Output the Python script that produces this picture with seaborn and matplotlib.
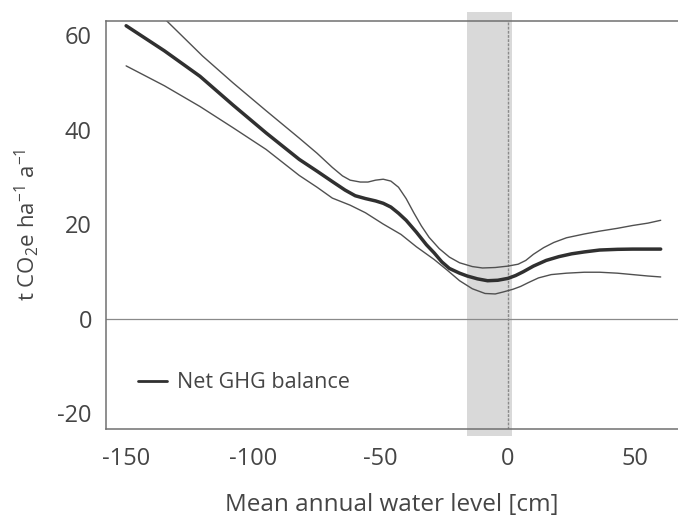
import numpy as np
import pandas as pd
import matplotlib
matplotlib.use("Agg")
import matplotlib.pyplot as plt
import seaborn as sns

# --- Data ---
mean_x = [-150, -135, -121, -108, -95, -82, -75, -69, -64, -60, -56, -52, -49, -46, -43, -40,
          -36, -32, -29, -26, -23, -19, -16, -12, -8, -4, 0, 3, 6, 10, 15, 20, 25, 30, 36, 43, 49, 55, 60]
mean_y = [62.0, 56.7, 51.3, 45.2, 39.3, 33.7, 31.2, 29.0, 27.2, 26.0, 25.4, 24.9, 24.4, 23.6, 22.3, 20.8,
          18.3, 15.6, 13.9, 12.0, 10.6, 9.6, 9.0, 8.4, 8.0, 8.1, 8.5, 9.1, 9.9, 11.1, 12.3, 13.1, 13.7, 14.1,
          14.5, 14.65, 14.7, 14.7, 14.7]

upper_x = [-150, -134, -120, -108, -95, -82, -75, -69, -65, -62, -58, -55, -52, -49, -46, -43, -40,
           -37, -34, -31, -27, -23, -19, -14, -10, -5, 0, 4, 7, 10, 14, 18, 23, 30, 36, 43, 49, 55, 60]
upper_y = [70.5, 63.0, 55.6, 49.9, 44.0, 38.2, 35.0, 32.0, 30.2, 29.3, 28.9, 28.9, 29.3, 29.5, 29.1,
           27.8, 25.4, 22.4, 19.6, 17.2, 14.8, 13.0, 11.8, 11.0, 10.7, 10.8, 11.1, 11.5, 12.3, 13.6, 15.0,
           16.1, 17.1, 17.9, 18.5, 19.1, 19.7, 20.2, 20.8]

lower_x = [-150, -135, -121, -108, -95, -82, -75, -69, -62, -56, -49, -42, -36, -29, -24, -19, -14,
           -9, -5, -2, 2, 5, 8, 12, 17, 23, 30, 36, 43, 49, 55, 60]
lower_y = [53.5, 49.3, 44.9, 40.4, 35.8, 30.3, 27.8, 25.5, 24.0, 22.4, 20.0, 17.8, 15.2, 12.5, 10.3,
           8.0, 6.3, 5.3, 5.2, 5.6, 6.2, 6.8, 7.6, 8.6, 9.3, 9.6, 9.8, 9.8, 9.6, 9.3, 9.0, 8.8]

optimum_band = (-16, 1.5)

x_ticks = [-150, -100, -50, 0, 50]
y_ticks = [-20, 0, 20, 40, 60]

sns.set_theme(style="white")
plt.rcParams['font.family'] = ['Open Sans', 'DejaVu Sans']
plt.rcParams['axes.unicode_minus'] = False
plt.rcParams['mathtext.fontset'] = 'custom'
plt.rcParams['mathtext.rm'] = 'Open Sans'
plt.rcParams['mathtext.it'] = 'Open Sans'
plt.rcParams['mathtext.default'] = 'regular'

text_col = "#454545"
fig = plt.figure(figsize=(6.78, 5.19), dpi=100)
ax = fig.add_axes([0.156, 0.1734, 0.844, 0.7861])

# shaded range and reference lines
ax.axvspan(*optimum_band, ymin=-0.017, ymax=1.022, color="#d9d9d9", lw=0, zorder=0, clip_on=False)
ax.axvline(0, color="#8a8a8a", lw=1.0, ls=(0, (2, 1)), zorder=1)
ax.axhline(0, color="#8a8a8a", lw=0.9, zorder=1)

df_mean = pd.DataFrame({"x": mean_x, "y": mean_y})
df_up = pd.DataFrame({"x": upper_x, "y": upper_y})
df_lo = pd.DataFrame({"x": lower_x, "y": lower_y})

sns.lineplot(data=df_up, x="x", y="y", ax=ax, color="#505050", lw=1.0, sort=False)
sns.lineplot(data=df_lo, x="x", y="y", ax=ax, color="#505050", lw=1.0, sort=False)
sns.lineplot(data=df_mean, x="x", y="y", ax=ax, color="#303030", lw=2.5, sort=False,
             label="Net GHG balance")

ax.set_xlim(-158, 66.8)
ax.set_ylim(-23.4, 63)
ax.set_xticks(x_ticks)
ax.set_yticks(y_ticks)

for s in ["left", "bottom", "top"]:
    ax.spines[s].set_color("#707070")
    ax.spines[s].set_linewidth(1.1)
ax.spines["right"].set_visible(False)

ax.tick_params(axis="both", direction="out", length=6, width=1.0, color="#707070",
               labelsize=17, labelcolor=text_col)
ax.tick_params(axis="x", pad=7)
ax.tick_params(axis="y", pad=4)

ax.set_xlabel("Mean annual water level [cm]", fontsize=17.5, color=text_col, labelpad=16)
ax.set_ylabel(r"t CO$_2$e ha$^{-1}$ a$^{-1}$", fontsize=16, color=text_col, labelpad=12)

leg = ax.legend(loc="center left", bbox_to_anchor=(0.056, 0.113), frameon=False,
                fontsize=15.5, handlelength=1.35, handletextpad=0.47, borderaxespad=0, borderpad=0)
for t in leg.get_texts():
    t.set_color(text_col)
leg.get_lines()[0].set_linewidth(2.0)

fig.savefig("out.png", dpi=100)
